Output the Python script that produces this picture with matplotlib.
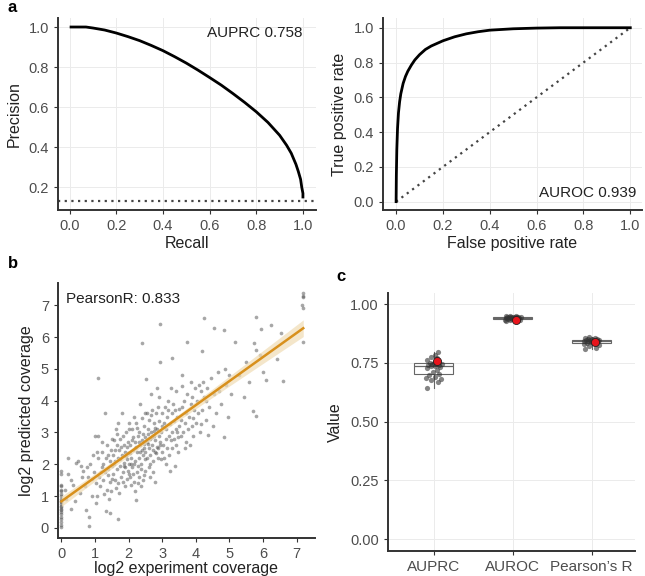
import numpy as np
import matplotlib
matplotlib.use("Agg")
import matplotlib.pyplot as plt

plt.rcParams['font.family'] = ['Liberation Sans', 'DejaVu Sans']

# ---- panel a: PR curve
pr_recall = [0.0, 0.03, 0.07, 0.1, 0.15, 0.2, 0.25, 0.3, 0.35, 0.4, 0.45, 0.5, 0.55, 0.6, 0.65,
             0.7, 0.75, 0.8, 0.85, 0.9, 0.93, 0.95, 0.97, 0.98, 0.99, 0.995, 1.0, 1.0]
pr_precision = [1.0, 1.0, 1.0, 0.995, 0.985, 0.97, 0.952, 0.932, 0.908, 0.882, 0.852, 0.82, 0.785,
                0.748, 0.71, 0.668, 0.624, 0.577, 0.524, 0.46, 0.41, 0.37, 0.315, 0.28, 0.24, 0.2, 0.17, 0.145]
pr_baseline = 0.13
auprc = 0.758

# ---- panel a: ROC curve
roc_fpr = [0.0, 0.001, 0.003, 0.006, 0.01, 0.015, 0.02, 0.03, 0.04, 0.05, 0.065, 0.08, 0.1, 0.125,
           0.15, 0.2, 0.25, 0.3, 0.35, 0.4, 0.5, 0.6, 0.7, 0.8, 1.0]
roc_tpr = [0.0, 0.15, 0.3, 0.42, 0.51, 0.575, 0.62, 0.68, 0.72, 0.75, 0.785, 0.815, 0.845, 0.875,
           0.895, 0.925, 0.948, 0.965, 0.977, 0.986, 0.994, 0.998, 1.0, 1.0, 1.0]
auroc = 0.939

# ---- panel b: coverage scatter
exp_cov = [0.0] * 23 + [
    0.2, 0.3, 0.35, 0.45, 0.5, 0.55, 0.6, 0.65, 0.7, 0.75, 0.8, 0.85, 0.9, 0.95, 0.2, 0.4, 0.72, 0.81,
    0.82, 0.1, 0.15, 0.3, 0.58, 0.9, 0.98,
    1.0, 1.05, 1.1, 1.1, 1.12, 1.15, 1.2, 1.2, 1.25, 1.25, 1.3, 1.3, 1.32, 1.35, 1.35, 1.4, 1.4, 1.44,
    1.45, 1.45, 1.5, 1.5, 1.04, 1.06, 1.18, 1.22, 1.28, 1.38, 1.48, 1.48, 1.1, 1.02, 1.33, 1.42, 1.5,
    1.55, 1.55, 1.58, 1.6, 1.6, 1.62, 1.65, 1.65, 1.69, 1.7, 1.7, 1.72, 1.75, 1.75, 1.78, 1.8, 1.8,
    1.82, 1.85, 1.85, 1.88, 1.9, 1.9, 1.92, 1.95, 1.95, 1.98, 2.0, 2.0, 2.0, 1.57, 1.63, 1.68, 1.73,
    1.77, 1.83, 1.87, 1.93, 1.97, 1.6, 1.66, 1.76, 1.84, 1.94, 1.99,
    2.02, 2.05, 2.05, 2.08, 2.1, 2.1, 2.12, 2.15, 2.15, 2.18, 2.2, 2.2, 2.21, 2.22, 2.25, 2.25, 2.28,
    2.3, 2.3, 2.32, 2.35, 2.35, 2.38, 2.4, 2.4, 2.41, 2.42, 2.45, 2.45, 2.48, 2.5, 2.5, 2.5, 2.03,
    2.07, 2.13, 2.17, 2.23, 2.27, 2.33, 2.37, 2.43, 2.47, 2.06, 2.14, 2.19, 2.26, 2.31, 2.36, 2.44,
    2.49, 2.29, 2.11, 2.39, 2.46,
    2.53, 2.55, 2.55, 2.58, 2.6, 2.6, 2.62, 2.65, 2.65, 2.68, 2.7, 2.7, 2.72, 2.75, 2.75, 2.78, 2.8,
    2.8, 2.82, 2.85, 2.85, 2.88, 2.9, 2.9, 2.92, 2.95, 2.95, 2.95, 2.98, 3.0, 3.0, 2.57, 2.63, 2.67,
    2.73, 2.77, 2.83, 2.87, 2.93, 2.97, 2.59, 2.69, 2.79, 2.89, 2.99, 2.64, 2.74, 2.84, 2.56, 2.66,
    3.02, 3.05, 3.05, 3.08, 3.1, 3.12, 3.15, 3.15, 3.18, 3.2, 3.2, 3.22, 3.25, 3.28, 3.28, 3.3, 3.3,
    3.32, 3.35, 3.35, 3.38, 3.4, 3.4, 3.42, 3.45, 3.45, 3.48, 3.5, 3.5, 3.1, 3.18, 3.27, 3.37, 3.47,
    3.23,
    3.55, 3.55, 3.6, 3.6, 3.62, 3.65, 3.68, 3.7, 3.72, 3.75, 3.75, 3.78, 3.8, 3.82, 3.85, 3.85, 3.88,
    3.9, 3.92, 3.95, 3.98, 4.0, 3.58, 3.67, 3.93,
    4.05, 4.08, 4.1, 4.12, 4.15, 4.18, 4.2, 4.22, 4.24, 4.25, 4.3, 4.32, 4.35, 4.37, 4.4, 4.45, 4.5,
    4.55, 4.55, 4.6, 4.65, 4.7, 4.75, 4.84, 4.84, 4.87, 4.9, 4.95, 5.0, 4.15,
    5.05, 5.18, 5.3, 5.44, 5.5, 5.6, 5.71, 5.73, 5.78, 5.79, 5.79, 5.9, 5.93, 6.0, 6.09, 6.23, 6.42,
    6.55, 6.59, 7.2, 7.2, 7.2, 7.15, 7.2, 7.2]
pred_cov = [0.02, 0.1, 0.18, 0.28, 0.35, 0.45, 0.5, 0.55, 0.6, 0.65, 0.7, 0.75, 0.8, 0.85, 0.9, 1.0,
            1.05, 1.15, 1.2, 1.3, 1.35, 1.7, 1.8] + [
    2.2, 1.5, 1.35, 2.05, 2.1, 1.1, 1.6, 1.8, 1.3, 1.9, 1.6, 2.0, 1.55, 2.3, 1.7, 0.85, 0.57, 0.34,
    0.07, 1.2, 0.9, 0.6, 1.95, 1.0, 1.75,
    2.9, 2.4, 4.72, 2.9, 1.6, 1.3, 2.4, 1.9, 2.0, 1.5, 3.6, 1.75, 0.52, 2.6, 1.2, 2.3, 1.65, 0.47,
    2.1, 1.45, 2.8, 1.95, 0.78, 1.0, 1.75, 2.7, 1.05, 1.85, 2.45, 1.15, 2.2, 1.4, 2.2, 0.9, 1.55,
    2.3, 1.7, 2.75, 2.1, 1.5, 3.1, 1.85, 2.6, 0.29, 2.2, 1.4, 2.45, 1.95, 2.8, 1.6, 2.3, 3.6,
    1.75, 2.05, 2.6, 1.3, 2.4, 1.9, 3.0, 2.15, 1.55, 2.7, 2.0, 3.3, 1.7, 2.0, 1.25, 3.3, 1.1,
    2.55, 2.9, 1.95, 2.25, 1.8, 2.45, 2.95, 2.15, 1.45, 2.55, 2.35,
    3.1, 2.6, 1.6, 2.2, 3.1, 1.9, 2.45, 3.5, 1.45, 2.7, 2.1, 1.15, 0.86, 3.3, 2.4, 1.75, 2.9,
    2.2, 3.0, 1.6, 2.6, 3.9, 2.0, 2.75, 3.45, 5.8, 1.5, 2.5, 3.2, 2.15, 2.85, 1.8, 3.6, 2.35,
    1.35, 2.85, 2.0, 2.55, 1.95, 2.4, 1.3, 2.3, 2.65, 2.0, 1.7, 2.5, 3.15, 2.7, 1.85, 2.95,
    2.4, 1.4, 2.75, 2.45, 1.65,
    4.68, 2.7, 2.2, 3.1, 2.5, 1.9, 3.4, 2.8, 2.3, 3.0, 2.6, 3.7, 2.1, 2.9, 3.3, 2.4, 1.45,
    2.75, 3.6, 2.55, 3.1, 2.2, 2.9, 4.1, 3.35, 2.6, 6.4, 5.2, 3.0, 2.4, 3.6, 2.95, 2.0, 3.55,
    2.45, 3.05, 2.35, 3.8, 2.7, 2.15, 2.65, 2.85, 3.15, 2.5, 3.2, 1.6, 1.75, 4.4, 3.6, 4.2,
    2.6, 3.3, 2.2, 3.8, 2.8, 3.1, 2.5, 3.5, 4.0, 2.9, 2.3, 3.25, 2.75, 5.33, 3.6, 3.0, 2.5,
    3.9, 2.8, 3.35, 1.95, 3.1, 4.3, 2.6, 3.5, 3.0, 2.4, 3.75, 3.2, 2.0, 3.7, 4.4, 3.7, 2.85,
    1.8,
    3.4, 2.9, 4.8, 3.8, 3.0, 4.0, 3.3, 2.7, 3.6, 5.83, 4.2, 3.1, 3.5, 2.6, 4.6, 3.9, 3.2,
    4.1, 2.9, 3.7, 4.4, 3.3, 4.45, 2.5, 3.45,
    4.0, 3.6, 4.5, 3.0, 4.3, 5.57, 3.7, 4.6, 6.59, 4.1, 3.4, 4.0, 4.4, 2.91, 3.8, 4.7, 3.2,
    6.3, 4.2, 3.6, 4.9, 4.3, 3.9, 6.21, 2.86, 5.0, 4.5, 3.5, 4.8, 3.25,
    4.2, 5.85, 4.8, 4.11, 5.2, 4.6, 3.69, 5.8, 6.64, 3.51, 5.59, 5.44, 6.26, 4.9, 4.66, 6.38, 5.31,
    6.12, 4.61, 7.4, 7.3, 7.25, 7.0, 6.9, 5.86]
pearson_r = 0.833

# ---- panel c: per-run metrics
metric_names = ["AUPRC", "AUROC", "Pearson’s R"]
auprc_runs = [0.645, 0.67, 0.675, 0.68, 0.685, 0.69, 0.70, 0.703, 0.71, 0.72, 0.728, 0.733, 0.735, 0.737,
              0.739, 0.741, 0.743, 0.745, 0.746, 0.748, 0.75, 0.755, 0.76, 0.77, 0.775, 0.785, 0.795]
auroc_runs = [0.928, 0.93, 0.932, 0.933, 0.934, 0.935, 0.936, 0.937, 0.938, 0.939, 0.94, 0.941, 0.942,
              0.942, 0.943, 0.944, 0.944, 0.945, 0.946, 0.946, 0.947, 0.947, 0.948, 0.948, 0.949]
pearson_runs = [0.81, 0.815, 0.82, 0.828, 0.832, 0.835, 0.836, 0.838, 0.839, 0.84, 0.841, 0.842, 0.843,
                0.844, 0.845, 0.846, 0.847, 0.848, 0.849, 0.85, 0.851, 0.852, 0.854, 0.856, 0.86]
jitter = [-0.08, 0.05, -0.03, 0.09, -0.1, 0.02, -0.06, 0.07, -0.01, 0.04, -0.09, 0.08, -0.04, 0.01,
          0.06, -0.07, 0.03, -0.02, 0.1, -0.05, 0.0, 0.07, -0.08, 0.04, -0.03, 0.02, 0.05]
overall = [0.758, 0.932, 0.838]

AX_COL = '#333333'
GRID_COL = '#ebebeb'
TICK_FS = 10.5
LABEL_FS = 11.5


def style_axes(ax, grid=True):
    for s in ['top', 'right']:
        ax.spines[s].set_visible(False)
    for s in ['left', 'bottom']:
        ax.spines[s].set_color(AX_COL)
        ax.spines[s].set_linewidth(1.4)
    ax.tick_params(colors=AX_COL, labelcolor='#4d4d4d', labelsize=TICK_FS, length=3, width=0.8)
    if grid:
        ax.grid(True, color=GRID_COL, linewidth=0.7)
        ax.set_axisbelow(True)


fig = plt.figure(figsize=(6.45, 5.76), dpi=100)

# PR
ax1 = fig.add_axes([58 / 645, 1 - 210 / 576, 258 / 645, 192 / 576])
style_axes(ax1)
ax1.plot(pr_recall, pr_precision, color='black', lw=2.0, solid_capstyle='butt')
ax1.axhline(pr_baseline, color='#444444', lw=1.6, ls=(0, (1, 2)))
ax1.set_xlim(-0.05, 1.056)
ax1.set_ylim(0.087, 1.045)
ax1.set_xticks([0, 0.2, 0.4, 0.6, 0.8, 1.0])
ax1.set_yticks([0.2, 0.4, 0.6, 0.8, 1.0])
ax1.xaxis.set_major_formatter(plt.FormatStrFormatter('%.1f'))
ax1.yaxis.set_major_formatter(plt.FormatStrFormatter('%.1f'))
ax1.set_xlabel('Recall', fontsize=LABEL_FS, color='#222222', labelpad=2)
ax1.set_ylabel('Precision', fontsize=LABEL_FS, color='#222222', labelpad=5)
ax1.text(1.0, 0.97, f'AUPRC {auprc}', ha='right', va='center', fontsize=11, color='#222222')

# ROC
ax2 = fig.add_axes([383 / 645, 1 - 210 / 576, 259 / 645, 192 / 576])
style_axes(ax2)
ax2.plot([0, 1], [0, 1], color='#444444', lw=1.6, ls=(0, (1, 2)))
ax2.plot(roc_fpr, roc_tpr, color='black', lw=2.0)
ax2.set_xlim(-0.056, 1.05)
ax2.set_ylim(-0.048, 1.056)
ax2.set_xticks([0, 0.2, 0.4, 0.6, 0.8, 1.0])
ax2.set_yticks([0, 0.2, 0.4, 0.6, 0.8, 1.0])
ax2.xaxis.set_major_formatter(plt.FormatStrFormatter('%.1f'))
ax2.yaxis.set_major_formatter(plt.FormatStrFormatter('%.1f'))
ax2.set_xlabel('False positive rate', fontsize=LABEL_FS, color='#222222', labelpad=2)
ax2.set_ylabel('True positive rate', fontsize=LABEL_FS, color='#222222', labelpad=5)
ax2.text(1.025, 0.05, f'AUROC {auroc}', ha='right', va='center', fontsize=11, color='#222222')

# coverage scatter
ax3 = fig.add_axes([58 / 645, 1 - 538 / 576, 257 / 645, 255 / 576])
style_axes(ax3, grid=False)
x = np.array(exp_cov)
y = np.array(pred_cov)
ax3.scatter(x, y, s=7, color='#505050', alpha=0.5, linewidths=0)
slope, intercept = np.polyfit(x, y, 1)
xs = np.linspace(x.min(), x.max(), 80)
fit = intercept + slope * xs
resid = y - (intercept + slope * x)
s_err = np.sqrt(np.sum(resid ** 2) / (len(x) - 2))
sxx = np.sum((x - x.mean()) ** 2)
band = 1.97 * s_err * np.sqrt(1 / len(x) + (xs - x.mean()) ** 2 / sxx)
ax3.fill_between(xs, fit - band, fit + band, color='#f0dcb4', alpha=0.7, lw=0)
ax3.plot(xs, fit, color='#d8901c', lw=1.8)
ax3.set_xlim(-0.1, 7.55)
ax3.set_ylim(-0.32, 7.7)
ax3.set_xticks(range(8))
ax3.set_yticks(range(8))
ax3.set_xlabel('log2 experiment coverage', fontsize=LABEL_FS, color='#222222', labelpad=0)
ax3.set_ylabel('log2 predicted coverage', fontsize=LABEL_FS, color='#222222', labelpad=5)
ax3.text(0.15, 7.2, f'PearsonR: {pearson_r}', ha='left', va='center', fontsize=11, color='#222222')

# metrics boxplot
ax4 = fig.add_axes([388 / 645, 1 - 551 / 576, 247 / 645, 258 / 576])
style_axes(ax4)
groups = [auprc_runs, auroc_runs, pearson_runs]
pos = [1, 2, 3]
ax4.boxplot(groups, positions=pos, widths=0.5, whis=(0, 100), patch_artist=True,
            boxprops=dict(facecolor='white', edgecolor='#666666', linewidth=0.8),
            medianprops=dict(color='#666666', linewidth=0.9),
            whiskerprops=dict(color='#666666', linewidth=0.8),
            capprops=dict(linewidth=0), showfliers=False, zorder=2)
for p, vals in zip(pos, groups):
    ax4.scatter(np.array(jitter[:len(vals)]) + p, vals, s=14, color='#333333', alpha=0.6,
                linewidths=0, zorder=3)
ax4.scatter([p + 0.04 for p in pos], overall, s=34, color='#e8141c', edgecolors='#222222',
            linewidths=0.6, zorder=4)
ax4.set_xlim(0.42, 3.55)
ax4.set_ylim(-0.05, 1.047)
ax4.set_xticks(pos)
ax4.set_xticklabels(metric_names)
ax4.set_yticks([0, 0.25, 0.5, 0.75, 1.0])
ax4.yaxis.set_major_formatter(plt.FormatStrFormatter('%.2f'))
ax4.set_ylabel('Value', fontsize=LABEL_FS, color='#222222', labelpad=5)
ax4.tick_params(axis='x', labelsize=11)

fig.text(8 / 645, 1 - 8 / 576, 'a', fontsize=12, fontweight='bold', va='center', ha='left')
fig.text(8 / 645, 1 - 264 / 576, 'b', fontsize=12, fontweight='bold', va='center', ha='left')
fig.text(336 / 645, 1 - 276 / 576, 'c', fontsize=12, fontweight='bold', va='center', ha='left')

fig.savefig('out.png', dpi=100)
